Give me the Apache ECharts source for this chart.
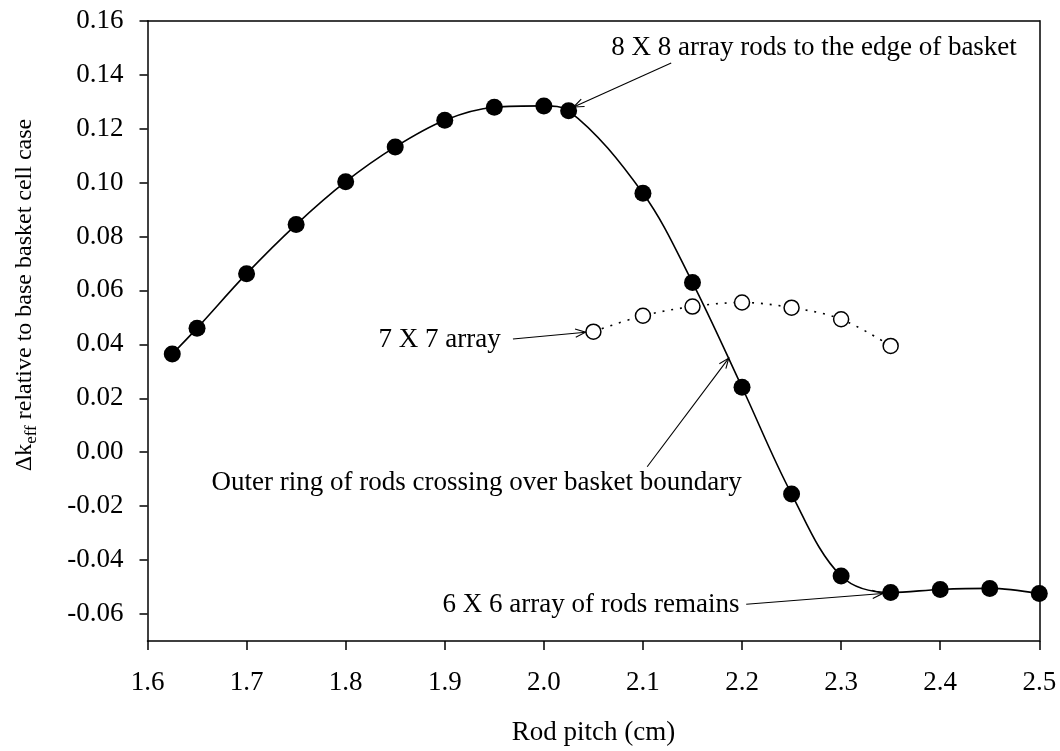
<!DOCTYPE html>
<html>
<head>
<meta charset="utf-8">
<script src="https://cdn.jsdelivr.net/npm/echarts@6/dist/echarts.min.js"></script>
<style>
  html, body { margin: 0; padding: 0; background: #fff; }
  #chart { width: 1060px; height: 751px; }
</style>
</head>
<body>
<div id="chart"></div>
<script>
// Rod pitch (cm) and Δk_eff for the 8 x 8 loading (filled markers)
const pitch8 = [1.625, 1.65, 1.7, 1.75, 1.8, 1.85, 1.9, 1.95, 2.0, 2.025, 2.1, 2.15, 2.2, 2.25, 2.3, 2.35, 2.4, 2.45, 2.5];
const dk8 = [0.0364, 0.0460, 0.0662, 0.0844, 0.1003, 0.1132, 0.1231, 0.1279, 0.1284, 0.1266, 0.0960, 0.0629, 0.0241, -0.0155, -0.0459, -0.0520, -0.0509, -0.0505, -0.0524];

// 7 x 7 array (open markers, dotted)
const pitch7 = [2.05, 2.1, 2.15, 2.2, 2.25, 2.3, 2.35];
const dk7 = [0.0447, 0.0506, 0.0540, 0.0555, 0.0536, 0.0493, 0.0394];

// Tick values
const xTicks = [1.6, 1.7, 1.8, 1.9, 2.0, 2.1, 2.2, 2.3, 2.4, 2.5];
const yTicks = [-0.06, -0.04, -0.02, 0.00, 0.02, 0.04, 0.06, 0.08, 0.10, 0.12, 0.14, 0.16];

// Callout texts
const noteTexts = [
  '8 X 8 array rods to the edge of basket',
  '7 X 7 array',
  'Outer ring of rods crossing over basket boundary',
  '6 X 6 array of rods remains'
];

const FAMILY = '"Liberation Serif", "Times New Roman", Times, serif';
const FS = 27;
const TITLE_FS = 24;
const SUB_FS = 17;

// Callout placement in data coordinates: text anchor, arrow tail, arrow tip
const notes = [
  { text: noteTexts[0], at: [2.068, 0.1500], align: 'left',   tail: [2.1285, 0.1443], tip: [2.030, 0.1280] },
  { text: noteTexts[1], at: [1.9564, 0.0418], align: 'right',  tail: [1.9688, 0.0420], tip: [2.0421, 0.0445] },
  { text: noteTexts[2], at: [1.9322, -0.0112], align: 'center', tail: [2.1043, -0.0054], tip: [2.1866, 0.0349] },
  { text: noteTexts[3], at: [2.1974, -0.0568], align: 'right',  tail: [2.2042, -0.0564], tip: [2.3419, -0.0524] }
];

const chart = echarts.init(document.getElementById('chart'), null, { renderer: 'canvas' });

const lineCol = '#000';
const axisLineStyle = { color: lineCol, width: 1.5 };

const option = {
  animation: false,
  backgroundColor: '#fff',
  grid: { left: 147.5, right: 20.7, top: 20.7, bottom: 107, containLabel: false },
  xAxis: [
    {
      type: 'value', min: 1.6, max: 2.5, interval: 0.1, position: 'bottom',
      axisLine: { show: true, onZero: false, lineStyle: axisLineStyle },
      axisTick: { show: true, inside: false, length: 9, lineStyle: axisLineStyle },
      axisLabel: { show: true, margin: 28, color: '#000', fontFamily: FAMILY, fontSize: FS,
        customValues: xTicks, formatter: v => v.toFixed(1) },
      splitLine: { show: false },
      name: 'Rod pitch (cm)', nameLocation: 'middle', nameGap: 78,
      nameTextStyle: { color: '#000', fontFamily: FAMILY, fontSize: FS }
    },
    {
      type: 'value', min: 1.6, max: 2.5, position: 'top',
      axisLine: { show: true, onZero: false, lineStyle: axisLineStyle },
      axisTick: { show: false }, axisLabel: { show: false }, splitLine: { show: false }
    }
  ],
  yAxis: [
    {
      type: 'value', min: -0.07, max: 0.16, interval: 0.01, position: 'left',
      axisLine: { show: true, onZero: false, lineStyle: axisLineStyle },
      axisTick: { show: true, inside: false, length: 8, lineStyle: axisLineStyle, customValues: yTicks },
      axisLabel: { show: true, margin: 24, color: '#000', fontFamily: FAMILY, fontSize: FS,
        customValues: yTicks, formatter: v => v.toFixed(2) },
      splitLine: { show: false }
    },
    {
      type: 'value', min: -0.07, max: 0.16, position: 'right',
      axisLine: { show: true, onZero: false, lineStyle: axisLineStyle },
      axisTick: { show: false }, axisLabel: { show: false }, splitLine: { show: false }
    }
  ],
  series: [
    {
      name: '8 X 8', type: 'line', xAxisIndex: 0, yAxisIndex: 0,
      data: pitch8.map((p, i) => [p, dk8[i]]),
      smooth: 0.35,
      symbol: 'circle', symbolSize: 17, showSymbol: true,
      lineStyle: { color: lineCol, width: 1.6 },
      itemStyle: { color: lineCol, borderWidth: 0 },
      z: 3
    },
    {
      name: '7 X 7', type: 'line', xAxisIndex: 0, yAxisIndex: 0,
      data: pitch7.map((p, i) => [p, dk7[i]]),
      smooth: 0.35,
      symbol: 'circle', symbolSize: 15, showSymbol: true,
      lineStyle: { color: lineCol, width: 1.6, type: [2, 7] },
      itemStyle: { color: '#fff', borderColor: lineCol, borderWidth: 1.5 },
      z: 4
    }
  ]
};

chart.setOption(option);

// Open arrow (line plus two-stroke head) from tail to tip, in pixels
function arrowShapes(a, b) {
  const ang = Math.atan2(b[1] - a[1], b[0] - a[0]);
  const L = 11, spread = 0.38;
  const h1 = [b[0] - L * Math.cos(ang - spread), b[1] - L * Math.sin(ang - spread)];
  const h2 = [b[0] - L * Math.cos(ang + spread), b[1] - L * Math.sin(ang + spread)];
  return [
    { type: 'line', shape: { x1: a[0], y1: a[1], x2: b[0], y2: b[1] },
      style: { stroke: lineCol, lineWidth: 1.1 }, z: 10 },
    { type: 'polyline', shape: { points: [h1, b, h2] },
      style: { stroke: lineCol, lineWidth: 1.1, fill: null }, z: 10 }
  ];
}

function drawNotes() {
  const px = c => chart.convertToPixel({ gridIndex: 0 }, c);
  const g = [];
  notes.forEach(n => {
    const p = px(n.at);
    g.push({
      type: 'text', x: p[0], y: p[1], z: 10,
      style: { text: n.text, font: FS + 'px ' + FAMILY, fill: '#000',
        textAlign: n.align, verticalAlign: 'middle' }
    });
    arrowShapes(px(n.tail), px(n.tip)).forEach(s => g.push(s));
  });
  // Vertical axis title with subscript
  g.push({
    type: 'text', x: 25, y: 295, rotation: Math.PI / 2, z: 10,
    style: {
      text: '{m|Δk}{s|eff}{m| relative to base basket cell case}',
      font: TITLE_FS + 'px ' + FAMILY,
      textAlign: 'center', verticalAlign: 'middle', fill: '#000',
      rich: {
        m: { font: TITLE_FS + 'px ' + FAMILY, lineHeight: 24, fill: '#000', verticalAlign: 'middle' },
        s: { font: SUB_FS + 'px ' + FAMILY, lineHeight: 17, padding: [14, 0, 0, 0], fill: '#000' }
      }
    }
  });
  chart.setOption({ graphic: { elements: g } });
}
drawNotes();
</script>
</body>
</html>
